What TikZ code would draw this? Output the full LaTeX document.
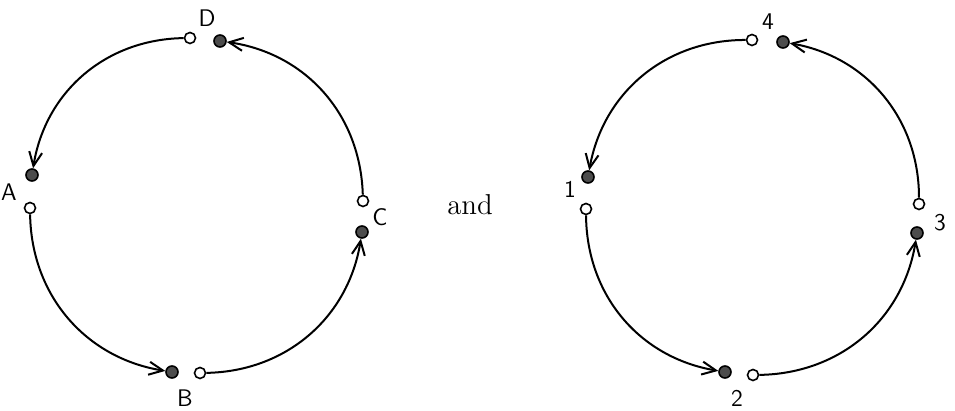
\documentclass[tikz,border=0pt]{standalone}
\usetikzlibrary{arrows.meta}
\begin{document}
\begin{tikzpicture}[
  x=0.5pt, y=0.5pt,
  opendot/.style={circle, draw, thick, fill=white, inner sep=0pt, minimum size=5.5pt},
  fulldot/.style={circle, draw, thick, fill=black!70, inner sep=0pt, minimum size=6pt},
  lbl/.style={font=\sffamily\large, inner sep=1pt},
  arc/.style={-{Straight Barb[length=7pt,width=6.5pt]}, line width=1pt, bend right=40}
]
\useasboundingbox (0,0) rectangle (955,411);

% left cycle
\node[opendot] (dOpen) at (190,373) {};
\node[fulldot] (dDot) at (220,370) {};
\node[lbl] (dLabel) at (207,393) {D};
\node[fulldot] (aDot) at (32,236) {};
\node[opendot] (aOpen) at (30,203) {};
\node[lbl] (aLabel) at (9,219) {A};
\node[fulldot] (bDot) at (172,39) {};
\node[opendot] (bOpen) at (200,38) {};
\node[lbl] (bLabel) at (185,13) {B};
\node[opendot] (cOpen) at (363,210) {};
\node[fulldot] (cDot) at (362,179) {};
\node[lbl] (cLabel) at (380,194) {C};

\draw[arc] (dOpen) to (aDot);
\draw[arc] (aOpen) to (bDot);
\draw[arc] (bOpen) to (cDot);
\draw[arc] (cOpen) to (dDot);

\node[font=\Large] (andText) at (470,206) {and};

% right cycle
\node[opendot] (fourOpen) at (752,371) {};
\node[fulldot] (fourDot) at (783,369) {};
\node[lbl] (fourLabel) at (768,389) {4};
\node[fulldot] (oneDot) at (588,234) {};
\node[opendot] (oneOpen) at (586,202) {};
\node[lbl] (oneLabel) at (570,222) {1};
\node[fulldot] (twoDot) at (725,39) {};
\node[opendot] (twoOpen) at (753,36) {};
\node[lbl] (twoLabel) at (737,13) {2};
\node[opendot] (threeOpen) at (919,207) {};
\node[fulldot] (threeDot) at (917,178) {};
\node[lbl] (threeLabel) at (940,188) {3};

\draw[arc] (fourOpen) to (oneDot);
\draw[arc] (oneOpen) to (twoDot);
\draw[arc] (twoOpen) to (threeDot);
\draw[arc] (threeOpen) to (fourDot);
\end{tikzpicture}
\end{document}
